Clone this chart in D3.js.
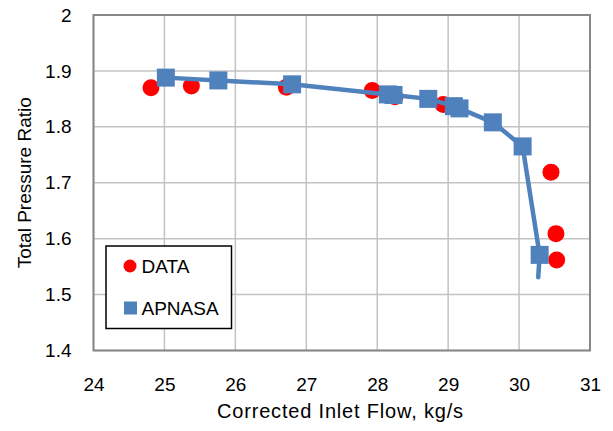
<!DOCTYPE html>
<meta charset="utf-8">
<style>
  body { margin: 0; background: #fff; }
  text { font-family: "Liberation Sans", Arial, sans-serif; fill: #000; }
</style>
<script src="https://d3js.org/d3.v7.min.js"></script>
<svg id="chart" width="613" height="431"></svg>
<script>
// measured data
var dataFlow  = [24.81, 25.38, 26.72, 27.93, 28.25, 28.93, 30.45, 30.52, 30.53];
var dataRatio = [1.870, 1.873, 1.871, 1.865, 1.854, 1.840, 1.719, 1.609, 1.562];

var apFlow  = [25.02, 25.76, 26.80, 28.15, 28.23, 28.72, 29.08, 29.16, 29.63, 30.05, 30.29];
var apRatio = [1.888, 1.883, 1.876, 1.858, 1.857, 1.850, 1.837, 1.833, 1.808, 1.765, 1.571];

// the APNASA line runs a little past the last marker
var lineFlow  = [25.02, 25.76, 26.80, 28.15, 28.23, 28.72, 29.08, 29.16, 29.63, 30.05, 30.29, 30.27];
var lineRatio = [1.888, 1.883, 1.876, 1.858, 1.857, 1.850, 1.837, 1.833, 1.808, 1.765, 1.571, 1.531];

var xTicks = [24, 25, 26, 27, 28, 29, 30, 31];
var yTicks = [1.4, 1.5, 1.6, 1.7, 1.8, 1.9, 2];

var svg = d3.select("#chart");
var pl = 93.5, pr = 590, pt = 15, pb = 350.5;

var x = d3.scaleLinear().domain([24, 31]).range([pl, pr]);
var y = d3.scaleLinear().domain([1.4, 2]).range([pb, pt]);

// grid
var grid = svg.append("g");
grid.selectAll(".gx").data(xTicks).enter().append("line")
    .attr("x1", d => x(d)).attr("x2", d => x(d))
    .attr("y1", pt).attr("y2", pb)
    .attr("stroke", "#c3c3c3").attr("stroke-width", 1.5);
grid.selectAll(".gy").data(yTicks).enter().append("line")
    .attr("x1", pl).attr("x2", pr)
    .attr("y1", d => y(d)).attr("y2", d => y(d))
    .attr("stroke", "#c3c3c3").attr("stroke-width", 1.5);

// frame
svg.append("rect")
    .attr("x", pl).attr("y", pt)
    .attr("width", pr - pl).attr("height", pb - pt)
    .attr("fill", "none").attr("stroke", "#878787").attr("stroke-width", 2);

// axes (labels only)
var xAxis = svg.append("g").attr("transform", "translate(0," + pb + ")")
    .call(d3.axisBottom(x).tickValues(xTicks).tickSize(0).tickPadding(27).tickFormat(d3.format("d")));
var yAxis = svg.append("g").attr("transform", "translate(" + pl + ",0)")
    .call(d3.axisLeft(y).tickValues(yTicks).tickSize(0).tickPadding(22).tickFormat(d => d));
[xAxis, yAxis].forEach(function(a) {
  a.select(".domain").remove();
  a.selectAll("text").attr("fill", "#000").style("font-size", "19px").style("font-family", "'Liberation Sans', Arial, sans-serif");
});

// axis titles
svg.append("text").attr("x", 340).attr("y", 418)
    .attr("text-anchor", "middle").style("font-size", "20px")
    .attr("textLength", 246).attr("lengthAdjust", "spacing")
    .text("Corrected Inlet Flow, kg/s");
svg.append("text")
    .attr("transform", "translate(31," + ((pt + pb) / 2) + ") rotate(-90)")
    .attr("text-anchor", "middle").style("font-size", "19px")
    .text("Total Pressure Ratio");

var blue = "#4f81bd", red = "#ff0000";

// DATA circles
svg.append("g").selectAll("circle").data(dataFlow).enter().append("circle")
    .attr("cx", d => x(d)).attr("cy", (d, i) => y(dataRatio[i]))
    .attr("r", 8.5).attr("fill", red);

// APNASA line
var line = d3.line().x(d => x(d)).y((d, i) => y(lineRatio[i]));
svg.append("path").datum(lineFlow)
    .attr("d", line).attr("fill", "none")
    .attr("stroke", blue).attr("stroke-width", 4.5)
    .attr("stroke-linecap", "round").attr("stroke-linejoin", "round");

// APNASA squares
var sq = 18;
svg.append("g").selectAll("rect").data(apFlow).enter().append("rect")
    .attr("x", d => x(d) - sq / 2).attr("y", (d, i) => y(apRatio[i]) - sq / 2)
    .attr("width", sq).attr("height", sq).attr("fill", blue);

// legend
var lg = svg.append("g");
lg.append("rect").attr("x", 106).attr("y", 246).attr("width", 125.5).attr("height", 82.5)
    .attr("fill", "#fff").attr("stroke", "#000").attr("stroke-width", 1.5);
lg.append("circle").attr("cx", 130).attr("cy", 266).attr("r", 6.5).attr("fill", red);
lg.append("text").attr("x", 141.5).attr("y", 272.5).style("font-size", "19px").text("DATA");
lg.append("rect").attr("x", 124).attr("y", 301.5).attr("width", 13).attr("height", 13).attr("fill", blue);
lg.append("text").attr("x", 141.5).attr("y", 314.5).style("font-size", "19px").text("APNASA");
</script>
